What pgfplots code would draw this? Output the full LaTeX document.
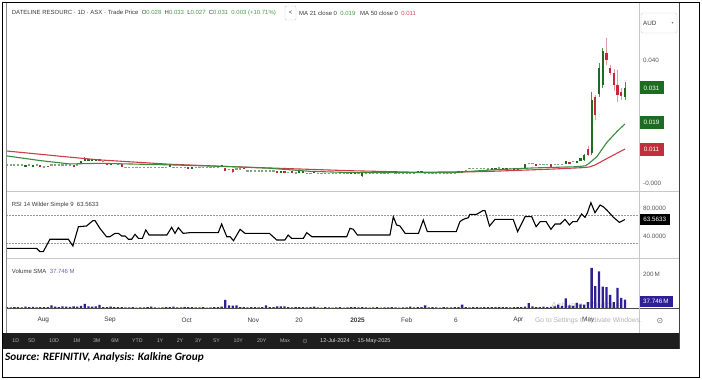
\documentclass[border=0pt]{standalone}
\usepackage{pgfplots}
\pgfplotsset{compat=1.18}
\usepackage{pgfplotstable}
\usepackage{fontspec}
\usepackage{graphicx}
\setmainfont{Liberation Sans}
\newfontfamily\carlito{Carlito}
\newfontfamily\dejavu{DejaVu Sans}
\newcommand\fs[1]{\fontsize{#1}{#1}\selectfont}

\definecolor{cgreen}{HTML}{1E6B22}
\definecolor{cwickg}{HTML}{4F8F4F}
\definecolor{cred}{HTML}{C8283A}
\definecolor{cwickr}{HTML}{E39AA3}
\definecolor{cdoji}{HTML}{7FA87F}
\definecolor{ma21}{HTML}{3C8A3C}
\definecolor{ma50}{HTML}{CC3D4A}
\definecolor{volc}{HTML}{2E1F96}
\definecolor{txt}{HTML}{3A3A3A}
\definecolor{numg}{HTML}{4A9A4A}
\definecolor{numr}{HTML}{D04848}
\definecolor{sep}{HTML}{C8C8C8}
\definecolor{tbar}{HTML}{1E1E1E}
\definecolor{boxg}{HTML}{1E6B22}
\definecolor{boxr}{HTML}{C0303C}

% price in thousandths of AUD, volume in millions
\pgfplotstableread{
i o h l c v
0 6 6 6 6 5
1 6 6 6 6 4
2 6 6 6 6 6
3 6 6 6 6 5
4 6 6 6 6 4
5 5.2 6 5.2 6 8
6 6 6 6 6 5
7 5.3 6 5.3 6 7
8 6 6 6 6 4
9 6 6 5.3 5.3 6
10 5.3 5.3 5.3 5.3 5
11 5.6 5.6 5.2 5.2 6
12 6 6 6 6 15
13 6 6 6 6 8
14 6 6 6 6 6
15 6 6 6 6 10
16 6 6 6 6 8
17 6 6 6 6 7
18 6 6 5.2 5.2 9
19 6 6 6 6 8
20 6.2 7 6.2 7 12
21 7 8.3 7 8 25
22 7 7.9 7 7.9 10
23 7.1 7.9 7.1 7.9 8
24 7.2 7.9 7.2 7.9 9
25 7.9 7.9 7.2 7.2 19
26 7 7 7 7 6
27 6.6 6.6 6 6 5
28 6 6.5 6 6.5 8
29 6.6 6.6 6.1 6.1 5
30 6.2 6.2 6.2 6.2 6
31 6.2 6.2 5.3 5.3 5
32 5.1 5.1 5.1 5.1 4
33 5.1 5.1 5.1 5.1 4
34 5.1 5.1 5.1 5.1 5
35 5.1 5.1 5.1 5.1 3
36 5.1 5.1 5.1 5.1 4
37 5.1 5.1 5.1 5.1 4
38 5.1 5.1 5.1 5.1 5
39 5.1 5.1 5.1 5.1 8
40 5.1 5.1 5.1 5.1 4
41 5.1 5.1 5.1 5.1 3
42 5.1 5.1 5.1 5.1 4
43 5.1 5.1 5.1 5.1 5
44 5.1 5.9 5.1 5.9 6
45 5.1 5.1 5.1 5.1 8
46 5.1 5.1 5.1 5.1 4
47 5.1 5.1 5.1 5.1 4
48 5.1 5.1 5.1 5.1 5
49 5.1 5.1 4.5 4.5 6
50 4.5 5.1 4.5 5.1 5
51 5.1 5.1 5.1 5.1 4
52 5.1 5.1 5.1 5.1 4
53 5.1 5.1 5.1 5.1 5
54 5.1 5.1 5.1 5.1 3
55 5.1 5.1 5.1 5.1 4
56 5.1 5.1 5.1 5.1 5
57 5.1 5.1 5.1 5.1 5
58 5.2 5.9 5.2 5.9 8
59 5 5 4 4 49
60 4.5 4.5 4.5 4.5 15
61 4.6 4.6 3.2 3.6 14
62 4.6 4.6 4.6 4.6 15
63 4.6 4.6 4.6 4.6 5
64 5 5 4.5 4.5 6
65 4 4 4 4 4
66 4 4 4 4 5
67 4 4 4 4 5
68 4 4 4 4 4
69 4 4 4 4 6
70 4 4 4 4 15
71 4 4 4 4 5
72 4 4 4 4 6
73 4 4 3.1 3.1 10
74 3.2 4 3.2 4 10
75 4 4 3.2 3.2 9
76 3.5 3.5 3.5 3.5 5
77 4 4 3.2 3.2 4
78 3.3 3.3 3.3 3.3 5
79 3.2 3.9 3.2 3.9 6
80 3.2 3.9 3.2 3.9 5
81 3.2 3.2 3.2 3.2 4
82 3.2 3.2 3.2 3.2 5
83 3.1 4 3.1 4 8
84 3.1 3.1 3.1 3.1 4
85 3.1 3.1 3.1 3.1 3
86 3.1 3.1 3.1 3.1 5
87 3.1 3.1 3.1 3.1 4
88 3.1 3.1 3.1 3.1 3
89 3.1 3.1 3.1 3.1 4
90 3.1 3.1 3.1 3.1 5
91 3.1 3.1 3.1 3.1 3
92 3.1 3.1 3.1 3.1 4
93 3.1 3.7 3.1 3.7 5
94 3.1 3.7 3.1 3.7 6
95 3.2 3.2 3.2 3.2 4
96 2.2 3.3 2.0 3.3 6
97 3.3 3.3 3.3 3.3 4
98 3.3 3.3 3.3 3.3 3
99 3.3 3.3 3.3 3.3 4
100 3.3 3.3 3.3 3.3 5
101 3.3 3.3 3.3 3.3 3
102 3.3 3.3 3.3 3.3 4
103 3.3 3.3 3.3 3.3 4
104 3.3 4 3.3 4 5
105 3.3 3.3 3.3 3.3 4
106 3.3 3.3 3.3 3.3 3
107 3.3 3.3 3.3 3.3 4
108 3.3 3.3 3.3 3.3 4
109 3.3 3.3 3.3 3.3 8
110 3.3 3.3 3.3 3.3 4
111 3.3 4 3.3 4 5
112 3.3 4 3.3 4 6
113 3.3 3.3 3.3 3.3 15
114 3.3 3.3 3.3 3.3 4
115 3.3 3.3 3.3 3.3 5
116 3.3 3.3 3.3 3.3 4
117 3.3 3.3 3.3 3.3 3
118 3.3 3.3 3.3 3.3 5
119 3.3 3.3 3.3 3.3 4
120 3.3 3.3 3.3 3.3 4
121 3.3 3.3 3.3 3.3 5
122 3.3 4 3.3 4 6
123 3.3 4 3.3 4 20
124 4 4 4 4 5
125 4.8 4.8 4.8 4.8 4
126 4.8 4.8 4.8 4.8 5
127 4.8 4.8 4.8 4.8 5
128 4.8 4.8 4.8 4.8 4
129 4.8 4.8 4.8 4.8 6
130 4.6 4.6 4.6 4.6 5
131 4.2 5 4.2 5 6
132 4.3 5 4.3 5 5
133 5 5 5 5 6
134 4.3 5 4.3 5 5
135 4.3 5 4.3 5 6
136 4.8 4.8 4.8 4.8 4
137 4.2 5 4.2 5 5
138 5 5 3.8 3.8 6
139 4.8 4.8 4.8 4.8 5
140 5 6.1 5 6.1 8
141 6.4 6.4 6.4 6.4 29
142 6.4 6.4 6.4 6.4 10
143 6.1 6.1 5.6 5.6 6
144 6.1 6.1 6.1 6.1 5
145 6.1 6.1 6.1 6.1 8
146 6.1 6.1 6.1 6.1 6
147 6.1 6.1 5.3 5.3 7
148 6.1 6.1 6.1 6.1 9
149 6.1 6.1 6.1 6.1 20
150 6.1 6.1 6.1 6.1 12
151 6.1 7.1 6.1 7.1 58
152 6.9 6.9 6.1 6.1 15
153 7 7 7 7 12
154 6.4 7.1 6.4 7.1 30
155 7 8.2 7 8.2 22
156 7.5 9.4 7.2 9.2 20
157 11 12 8.8 9.2 35
158 9.7 29.7 9 27 240
159 28 28.5 20.5 22 130
160 29 39 28 37.3 218
161 32 43.8 31 43 128
162 42.4 47 38.4 40 125
163 37.3 38.3 35 35.9 79
164 35.7 37 30 32 35
165 32 36.7 26.4 28.6 120
166 29.5 31 27 28.2 60
167 28 33 27 31 50
}\daily

\pgfplotsset{
  panel/.style={scale only axis, width=633bp, xmin=-0.27, xmax=170.8,
    axis line style={draw=none}, tick style={draw=none}, major tick length=0pt,
    yticklabel pos=right,
    yticklabel style={anchor=west, xshift=4bp, inner sep=0pt, font=\fs{6.3}, text=txt!85},
    clip=false},
  candle/.style={only marks, mark=*, mark size=0pt, mark options={draw=none, fill=none},
    error bars/.cd, y dir=both, y explicit, error mark=none},
}

\begin{document}
\begin{tikzpicture}
\useasboundingbox (0,0) rectangle (702bp,-380bp);
\fill[white] (0,0) rectangle (702bp,-380bp);

% ---------- price panel
\begin{axis}[panel, at={(6bp,-3bp)}, anchor=north west, height=188bp,
  ymin=-2.60, ymax=58.54, xtick=\empty, ytick={0,40}, yticklabels={-0.000,0.040}]
% wicks
\addplot[restrict expr to domain={\thisrow{c}-\thisrow{o}}{0.01:1000},
  candle, error bar style={draw=cwickg, line width=0.6bp}]
  table[x=i, y expr={(\thisrow{h}+\thisrow{l})/2}, y error expr={(\thisrow{h}-\thisrow{l})/2}] \daily;
\addplot[restrict expr to domain={\thisrow{c}-\thisrow{o}}{-1000:-0.01},
  candle, error bar style={draw=cwickr, line width=0.6bp}]
  table[x=i, y expr={(\thisrow{h}+\thisrow{l})/2}, y error expr={(\thisrow{h}-\thisrow{l})/2}] \daily;
% bodies
\addplot[restrict expr to domain={\thisrow{c}-\thisrow{o}}{0.01:1000},
  candle, error bar style={draw=cgreen, line width=2.2bp}]
  table[x=i, y expr={(\thisrow{o}+\thisrow{c})/2}, y error expr={abs(\thisrow{c}-\thisrow{o})/2}] \daily;
\addplot[restrict expr to domain={\thisrow{c}-\thisrow{o}}{-1000:-0.01},
  candle, error bar style={draw=cred, line width=2.2bp}]
  table[x=i, y expr={(\thisrow{o}+\thisrow{c})/2}, y error expr={abs(\thisrow{c}-\thisrow{o})/2}] \daily;
\addplot[restrict expr to domain={\thisrow{c}-\thisrow{o}}{-0.005:0.005},
  candle, error bar style={draw=cdoji, line width=2.2bp}]
  table[x=i, y expr={\thisrow{c}}, y error expr={0.17}] \daily;
% moving averages
\addplot[ma50, line width=1.1bp] coordinates {(0,10.4) (17,8.4) (25.1,7.5) (44,6.1) (61,5.3) (79.2,4.55) (92.7,4.0) (110.8,3.5) (128.6,3.7) (146.8,4.5) (155.7,5.0) (157.3,5.2) (158.9,5.85) (162.2,8.0) (167,11.05)};
\addplot[ma21, line width=1.1bp] coordinates {(0,8.8) (8.9,7.3) (17,6.2) (25.1,6.4) (44,5.9) (61,5.3) (71,4.8) (81.9,3.8) (92.7,3.4) (119.7,3.35) (131.6,4.3) (142.2,4.9) (154,5.3) (156.3,5.6) (157.3,6.4) (159.4,8.55) (162.1,13.2) (164.8,16.7) (167,19.2)};
% value boxes
\node[fill=boxg, text=white, font=\fs{6.3}, anchor=west, minimum width=24.5bp, minimum height=13bp, inner sep=0pt] at (axis cs:170.8,30.9) {0.031};
\node[fill=boxg, text=white, font=\fs{6.3}, anchor=west, minimum width=24.5bp, minimum height=13bp, inner sep=0pt] at (axis cs:170.8,19.7) {0.019};
\node[fill=boxr, text=white, font=\fs{6.3}, anchor=west, minimum width=24.5bp, minimum height=13bp, inner sep=0pt] at (axis cs:170.8,10.8) {0.011};
\end{axis}

% ---------- RSI panel
\begin{axis}[panel, at={(6bp,-191bp)}, anchor=north west, height=67bp,
  ymin=8.57, ymax=104.3, xtick=\empty, ytick={40,80}, yticklabels={40.0000,80.0000}]
\draw[gray!80, dash pattern=on 1.5bp off 1.5bp, line width=0.5bp] (axis cs:-0.27,70) -- (axis cs:170.8,70);
\draw[gray!80, dash pattern=on 1.5bp off 1.5bp, line width=0.5bp] (axis cs:-0.27,30) -- (axis cs:170.8,30);
\addplot[black, line width=1.1bp] coordinates {(0,22.4) (8.0,22.4) (8.9,17.6) (9.8,17.6) (11.6,35.3) (16.6,35.3) (17.8,25.7) (19.3,53.3) (21.5,54.3) (23.2,61.9) (23.8,61.9) (25.1,51) (26.9,39) (27.8,39) (29.2,43.8) (30.1,43.8) (31.0,40) (31.9,40) (32.8,35.3) (33.7,35.3) (34.6,42.4) (35.5,36.7) (36.6,36.7) (37.5,48.6) (38.4,41.4) (43.2,41.4) (44.5,52.4) (45.4,43.8) (46.3,51.9) (47.6,43.8) (49.5,44.8) (57.1,44.8) (58.0,57.1) (59.4,39) (60.3,39) (61.2,33.3) (63.0,49.5) (64.3,43.8) (70.9,43.8) (72.9,34.3) (75.1,34.3) (76.0,41.4) (76.9,36.7) (80.1,36.7) (81.0,44.8) (82.4,39) (91.8,39) (92.7,51) (93.6,49.5) (94.7,41.4) (103.5,41.4) (104.4,67.6) (105.3,55.7) (106.2,54.3) (107.6,43.8) (111.2,43.8) (112.5,62.9) (113.6,46.2) (121.4,46.2) (122.4,60.5) (123.3,63.8) (124.7,66.2) (125.1,71) (126.9,71) (128.6,76.2) (129.2,76.2) (130.4,54.3) (131.9,63.8) (136.8,63.8) (138.0,46.2) (140.0,67.6) (141.8,67.6) (143.0,53.3) (144.1,60.5) (145.7,60.5) (147.0,49.5) (148.1,57.1) (149.5,57.1) (150.8,63.8) (152.0,55.7) (152.9,60.5) (154.0,60.5) (155.3,71.4) (156.2,66.7) (156.8,72.4) (157.8,87.6) (158.9,73.3) (160.3,84.3) (161.2,81.5) (162.1,77.1) (163.9,66.7) (165.5,59.5) (167,63.56)};
\node[fill=black, text=white, font=\fs{6.3}, anchor=west, minimum width=31bp, minimum height=11bp, inner sep=0pt] at (axis cs:170.8,63.56) {63.5633};
\end{axis}

% ---------- volume panel
\begin{axis}[panel, at={(6bp,-258bp)}, anchor=north west, height=50bp,
  ymin=0, ymax=298.5, ytick={200}, yticklabels={200\,M},
  xtick={9.81,27.84,48.57,66.57,78.92,94.73,108.03,121.35,138.19,157.11},
  xticklabels={Aug,Sep,Oct,Nov,20,\textbf{2025},Feb,6,Apr,May},
  xticklabel style={anchor=center, yshift=-12bp, font=\fs{6.5}, text=txt}]
\node[anchor=west, inner sep=0pt, font=\fs{9}, text=gray!40] at (axis cs:147,17) {Activate Windows};
\addplot[ybar, bar width=2.3bp, bar shift=0pt, fill=volc, draw=none] table[x=i, y=v] \daily;
\node[fill=volc, text=white, font=\fs{6.3}, anchor=west, minimum width=33.5bp, minimum height=10.5bp, inner sep=0pt] at (axis cs:170.8,37.746) {37.746\,M};
\end{axis}

% ---------- frame, separators
\draw[sep, line width=0.6bp] (6bp,-191bp) -- (679bp,-191bp);
\draw[sep, line width=0.6bp] (6bp,-258bp) -- (679bp,-258bp);
\draw[black!70, line width=0.8bp] (6bp,-308bp) -- (679bp,-308bp);
\draw[sep, line width=0.8bp] (639bp,-3bp) -- (639bp,-333bp);
\draw[black!45, line width=0.6bp] (6bp,-3bp) -- (6bp,-333bp);
\fill[tbar] (3bp,-333bp) rectangle (679bp,-349bp);
\draw[black!75, line width=1bp] (679bp,-2.5bp) -- (679bp,-349bp);
\draw[black, line width=1.2bp] (2.5bp,-2.5bp) rectangle (699.5bp,-377.5bp);

% ---------- headers
\node[anchor=west, inner sep=0pt, font=\fs{6}, text=txt] at (11.7bp,-13bp)
  {DATELINE RESOURC · 1D · ASX · Trade Price\ \ O\textcolor{numg}{0.028}\ \ H\textcolor{numg}{0.033}\ \ L\textcolor{numg}{0.027}\ \ C\textcolor{numg}{0.031}\ \ \textcolor{numg}{0.003 (+10.71\%)}};
\draw[sep, fill=white, rounded corners=1bp] (285bp,-6bp) rectangle (296bp,-20bp);
\node[font=\fs{6}, text=txt] at (290.5bp,-13bp) {<};
\node[anchor=west, inner sep=0pt, font=\fs{6}, text=txt] at (299bp,-13bp) {MA 21 close 0\ \ \textcolor{numg}{0.019}};
\node[anchor=west, inner sep=0pt, font=\fs{6}, text=txt] at (360bp,-13bp) {MA 50 close 0\ \ \textcolor{numr}{0.011}};
\node[anchor=west, inner sep=0pt, font=\fs{6}, text=txt] at (11.7bp,-205bp) {RSI 14 Wilder Simple 9\ \ 63.5633};
\node[anchor=west, inner sep=0pt, font=\fs{6}, text=txt] at (11.7bp,-271bp) {Volume SMA\ \ \textcolor{volc!70}{37.746 M}};

% AUD selector
\draw[sep!80, fill=white, rounded corners=1.5bp] (641bp,-13bp) rectangle (677bp,-33bp);
\node[anchor=west, inner sep=0pt, font=\fs{6.3}, text=txt] at (643bp,-23bp) {AUD};
\node[inner sep=0pt, font=\dejavu\fs{4}, text=txt!70] at (672.5bp,-23.5bp) {▾};

% watermark and clock icon
\node[anchor=west, inner sep=0pt, font=\fs{6.8}, text=gray!60] at (535bp,-321bp) {Go to Settings to activate Windows.};
\node[inner sep=0pt, font=\dejavu\fs{8}, text=txt!80] at (660bp,-321bp) {⊙};

% toolbar
\foreach \lab/\xx in {1D/15.7,5D/31.7,10D/54,1M/76.7,3M/96.7,6M/115,YTD/137.3,1Y/160,2Y/180,3Y/198.3,5Y/216.7,10Y/238.3,20Y/261.7,Max/285}
  {\node[inner sep=0pt, font=\fs{5.3}, text=white!70!black] at (\xx bp,-341bp) {\lab};}
\node[inner sep=0pt, font=\dejavu\fs{6.5}, text=white!60!black] at (305bp,-341bp) {⊙};
\node[anchor=west, inner sep=0pt, font=\fs{5.6}, text=white!85!black] at (320bp,-341bp) {12-Jul-2024\ \ -\ \ 15-May-2025};

% source
\node[anchor=west, inner sep=0pt, font=\carlito\bfseries\itshape\fs{11.3}] at (5bp,-357.5bp) {Source: REFINITIV, Analysis: Kalkine Group};
\end{tikzpicture}
\end{document}
